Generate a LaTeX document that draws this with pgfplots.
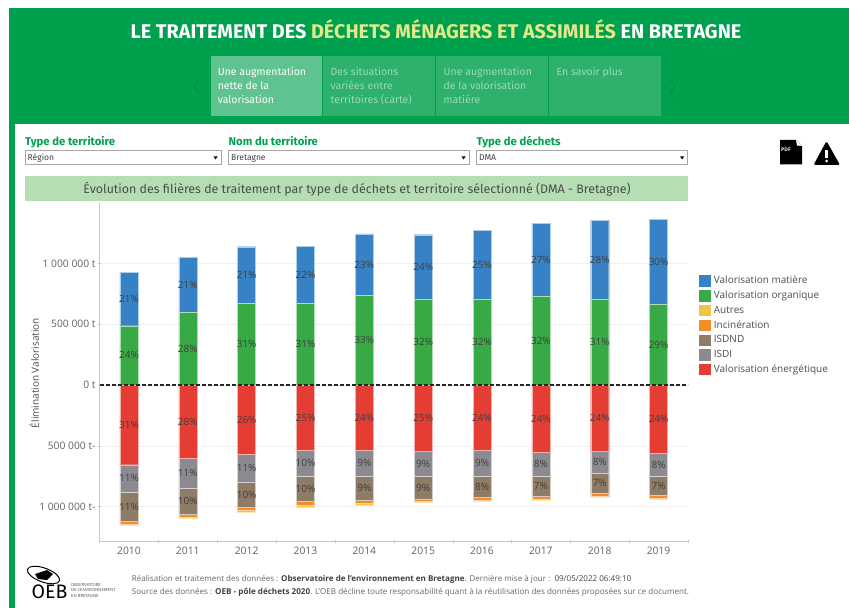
\documentclass[border=0pt]{standalone}
\usepackage{fontspec}
\setmainfont{Open Sans}
\newfontfamily\fira{Fira Sans}
\usepackage{pgfplots}
\usepackage{pgfplotstable}
\pgfplotsset{compat=1.18}
\definecolor{head}{HTML}{00A14E}
\definecolor{bandeau}{HTML}{B5DEB5}
\definecolor{jaune}{HTML}{E3E88A}
\definecolor{matiere}{HTML}{3682C4}
\definecolor{organique}{HTML}{37A945}
\definecolor{autres}{HTML}{EEC643}
\definecolor{incin}{HTML}{F48C2C}
\definecolor{isdnd}{HTML}{8F7C66}
\definecolor{isdi}{HTML}{8C8A90}
\definecolor{energie}{HTML}{E43D33}
\newcommand{\sz}[1]{\fontsize{#1bp}{#1bp}\selectfont}

% kilotonnes
\pgfplotstableread{
year org orgp mat matp
2010 488 24 442 21
2011 601 28 452 21
2012 672 31 466 21
2013 672 31 472 22
2014 738 33 505 23
2015 708 32 529 24
2016 708 32 565 25
2017 727 32 606 27
2018 708 31 650 28
2019 667 29 696 30
}\pos
\pgfplotstableread{
year ene enep isdi isdip isdnd isdndp inc aut
2010 -656 31 -224 11 -242 11 -25 -5
2011 -601 28 -247 11 -214 10 -30 -8
2012 -568 26 -230 11 -211 10 -25 -11
2013 -538 25 -211 10 -211 10 -27 -22
2014 -538 24 -211 9 -197 9 -25 -22
2015 -543 25 -206 9 -189 9 -22 -8
2016 -538 24 -211 9 -173 8 -24 -14
2017 -557 24 -192 8 -164 7 -28 -11
2018 -543 24 -184 8 -162 7 -27 -11
2019 -562 24 -190 8 -153 7 -25 -11
}\negs

\pgfplotsset{
 base/.style={
  at={(99.5bp,-541bp)},anchor=south west,scale only axis,width=588.5bp,height=338bp,
  xmin=2009.5,xmax=2019.5,ymin=-1283.95,ymax=1497.94},
 bars/.style={base,ybar stacked,bar width=18bp,clip=false},
 seg/.style={fill=#1,draw=#1!40,line width=0.4pt},
 lab/.style={point meta=explicit symbolic,
  nodes near coords={\pgfplotspointmeta\%},
  nodes near coords style={anchor=center,font=\sz{10},text=black!75,inner sep=0pt}},
 swatch/.style={legend image code/.code={\fill[#1] (0bp,-5.2bp) rectangle (10.5bp,5.2bp);\path (12.5bp,0bp);}},
}

\begin{document}
\begin{tikzpicture}
\begin{scope}[x=1bp,y=-1bp]
\path[use as bounding box] (0,0) rectangle (849,608);
% header and left strip
\fill[head] (9,8) rectangle (849,124);
\fill[head] (9,124) rectangle (14.5,608);
\node[anchor=center,text=white,font=\fira\bfseries\sz{19.8}] at (436,29)
 {LE TRAITEMENT DES \textcolor{jaune}{DÉCHETS MÉNAGERS ET ASSIMILÉS} EN BRETAGNE};
% tabs
\fill[white,opacity=.37] (210.6,56) rectangle (322,115.7);
\fill[white,opacity=.18] (323,56) rectangle (435,115.7);
\fill[white,opacity=.18] (436,56) rectangle (548,115.7);
\fill[white,opacity=.18] (549,56) rectangle (660.5,115.7);
\foreach \x/\c/\a/\b/\d in {217.6/white/Une augmentation/nette de la/valorisation,
 330.5/white!60!head/Des situations/variées entre/territoires (carte),
 443.5/white!60!head/Une augmentation/de la valorisation/matière,
 556.5/white!60!head/En savoir plus//}{
 \node[anchor=base west,text=\c,font=\fira\sz{10.5},inner sep=0pt] at (\x,75.5) {\a};
 \node[anchor=base west,text=\c,font=\fira\sz{10.5},inner sep=0pt] at (\x,89.5) {\b};
 \node[anchor=base west,text=\c,font=\fira\sz{10.5},inner sep=0pt] at (\x,103.5) {\d};
}
\draw[head!85!black,line width=.8pt] (199,79) -- (194,86) -- (199,93);
\draw[head!85!black,line width=.8pt] (670,79) -- (675,86) -- (670,93);
% filters
\foreach \x/\r/\t/\v in {25/221/Type de territoire/Région,228.5/469/Nom du territoire/Bretagne,476.5/687.6/Type de déchets/DMA}{
 \node[anchor=base west,text=head,font=\fira\bfseries\sz{11.3},inner sep=0pt] at (\x,146) {\t};
 \draw[black!35,fill=white,line width=.6pt] (\x,150.5) rectangle (\r,164.5);
 \node[anchor=base west,text=black!75,font=\fira\sz{8.5},inner sep=0pt] at (\x+2.5,161) {\v};
 \fill[black] (\r-7.5,156.5) -- (\r-3.5,156.5) -- (\r-5.5,159.5) -- cycle;
}
% icons
\fill[black] (780,140) -- (796,140) -- (802,146) -- (802,164.5) -- (780,164.5) -- cycle;
\fill[white] (796,140) -- (797,145.5) -- (802,146) -- cycle;
\node[font=\bfseries\sz{5},text=white,inner sep=0pt] at (786,150) {PDF};
\fill[black,rounded corners=1.5pt] (826.5,141) -- (840,165) -- (813.5,165) -- cycle;
\fill[white] (825.2,150) rectangle (827.8,158.5);
\fill[white] (826.5,161) circle (1.5);
% chart title
\fill[bandeau] (25,176) rectangle (687.6,201);
\node[text=black!70,font=\fira\sz{12.4}] at (357,189)
 {Évolution des filières de traitement par type de déchets et territoire sélectionné (DMA - Bretagne)};
\end{scope}

\begin{axis}[bars,
 axis x line=bottom,axis y line=left,axis line style={-,draw=black!22,line width=.8pt},
 xtick={2010,...,2019},xticklabels={2010,2011,2012,2013,2014,2015,2016,2017,2018,2019},
 major x tick style={draw=none},
 minor xtick={2009.5,2010.5,2011.5,2012.5,2013.5,2014.5,2015.5,2016.5,2017.5,2018.5,2019.5},
 minor tick length=3bp,minor tick style={draw=black!22},
 ytick={-1000,-500,0,500,1000},
 yticklabels={1 000 000 t-,500 000 t-,0 t,500 000 t,1 000 000 t},
 major y tick style={draw=black!22},major tick length=3bp,
 tick label style={font=\sz{10.3},text=black!62},
 xticklabel style={yshift=-1bp},
 yticklabel style={xshift=1bp},
 ymajorgrids,grid style={black!6,line width=.5pt},
 ylabel={Élimination Valorisation},
 every axis y label/.style={at={(axis description cs:-0.111,0.497)},rotate=90,anchor=center,font=\sz{10},text=black!70},
 legend style={at={(axis description cs:1.0187,0.79)},anchor=north west,draw=none,fill=none,
  font=\sz{10},text=black!70,inner sep=0pt,outer sep=0pt,
  row sep=1.9bp,/tikz/every even column/.style={column sep=3.5bp}},
 legend cell align=left,
]
\addplot[forget plot,seg=organique,lab] table[x=year,y=org,meta=orgp]{\pos};
\addplot[forget plot,seg=matiere,lab] table[x=year,y=mat,meta=matp]{\pos};
\addlegendimage{swatch=matiere}\addlegendentry{Valorisation matière}
\addlegendimage{swatch=organique}\addlegendentry{Valorisation organique}
\addlegendimage{swatch=autres}\addlegendentry{Autres}
\addlegendimage{swatch=incin}\addlegendentry{Incinération}
\addlegendimage{swatch=isdnd}\addlegendentry{ISDND}
\addlegendimage{swatch=isdi}\addlegendentry{ISDI}
\addlegendimage{swatch=energie}\addlegendentry{Valorisation énergétique}
\end{axis}

\begin{axis}[bars,hide axis]
\addplot[seg=energie,lab] table[x=year,y=ene,meta=enep]{\negs};
\addplot[seg=isdi,lab] table[x=year,y=isdi,meta=isdip]{\negs};
\addplot[seg=isdnd,lab] table[x=year,y=isdnd,meta=isdndp]{\negs};
\addplot[seg=incin] table[x=year,y=inc]{\negs};
\addplot[seg=autres] table[x=year,y=aut]{\negs};
\end{axis}

\begin{axis}[base,hide axis]
\addplot[black!85,line width=1.1pt,dash pattern=on 4.5bp off 1.5bp] coordinates {(2009.5,0) (2019.5,0)};
\end{axis}

\begin{scope}[x=1bp,y=-1bp]
% footer
\node[anchor=west,inner sep=0pt,text=black!60,font=\sz{8.05}] at (131.7,579)
 {Réalisation et traitement des données : \textcolor{black!75}{\bfseries Observatoire de l’environnement en Bretagne}. Dernière mise à jour :\ \ \textcolor{black!75}{09/05/2022 06:49:10}};
\node[anchor=west,inner sep=0pt,text=black!60,font=\sz{8.1}] at (131.7,592)
 {Source des données : \textcolor{black!75}{\bfseries OEB - pôle déchets 2020}. L’OEB décline toute responsabilité quant à la réutilisation des données proposées sur ce document.};
% logo
\draw[black,line width=1pt] (43.5,575) ellipse [x radius=17,y radius=7,rotate=-20];
\fill[black] (35,574) -- (47,570) -- (53,574) -- (47,580) -- (38,579) -- cycle;
\node[anchor=west,inner sep=0pt,font=\fira\sz{19.5}] at (31.5,591.5) {OEB};
\foreach \y/\t in {584.5/OBSERVATOIRE,590.2/DE L’ENVIRONNEMENT,596/EN BRETAGNE}
 \node[anchor=west,inner sep=0pt,text=black!70,font=\sz{4.2}] at (71,\y) {\t};
\end{scope}
\end{tikzpicture}
\end{document}
